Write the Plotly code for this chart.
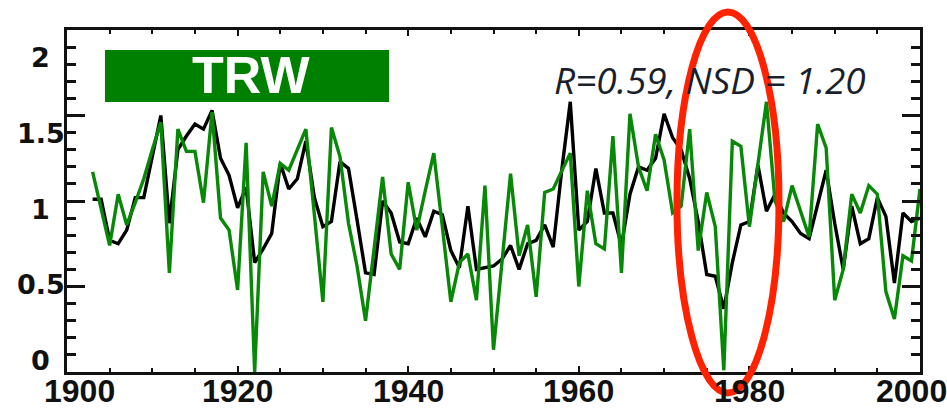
import plotly.graph_objects as go

# Annual series, 1903-2000
years = list(range(1903, 2001))

observed = [
    1.01, 1.01, 0.77, 0.75, 0.83, 1.02, 1.02, 1.26, 1.50, 0.87,
    1.30, 1.38, 1.45, 1.42, 1.53, 1.25, 1.15, 0.96, 1.08, 0.64,
    0.72, 0.81, 1.22, 1.07, 1.13, 1.35, 1.02, 0.85, 0.88, 1.23,
    1.19, 0.89, 0.58, 0.57, 1.00, 0.93, 0.76, 0.75, 0.90, 0.79,
    0.94, 0.92, 0.71, 0.61, 0.97, 0.60, 0.61, 0.62, 0.66, 0.74,
    0.60, 0.75, 0.77, 0.86, 0.73, 1.18, 1.58, 0.83, 0.88, 1.19,
    0.93, 0.93, 0.74, 1.04, 1.20, 1.18, 1.25, 1.51, 1.37, 1.30,
    1.13, 0.88, 0.57, 0.56, 0.37, 0.64, 0.86, 0.88, 1.21, 0.94,
    1.04, 0.93, 0.88, 0.81, 0.78, 0.99, 1.18, 0.87, 0.60, 0.97,
    0.75, 0.78, 1.02, 0.91, 0.52, 0.93, 0.88, 0.90,
]

trw = [
    1.17, 0.95, 0.74, 1.04, 0.86, 0.99, 1.13, 1.30, 1.46, 0.58,
    1.42, 1.29, 1.29, 0.99, 1.52, 0.90, 0.83, 0.48, 1.34, 0.00,
    1.17, 0.97, 1.22, 1.18, 1.30, 1.42, 0.92, 0.41, 1.43, 1.26,
    0.87, 0.62, 0.30, 0.73, 1.14, 0.69, 0.60, 1.11, 0.83, 1.06,
    1.28, 0.85, 0.41, 0.64, 0.69, 0.42, 1.09, 0.13, 0.65, 1.16,
    0.68, 0.86, 0.44, 1.05, 1.07, 1.17, 1.28, 0.50, 1.06, 0.75,
    0.72, 1.38, 0.58, 1.51, 1.20, 1.06, 1.39, 1.24, 0.93, 0.97,
    1.42, 0.71, 1.05, 0.85, 0.01, 1.35, 1.32, 0.85, 1.22, 1.58,
    1.00, 0.88, 1.09, 0.94, 0.79, 1.45, 1.31, 0.42, 0.60, 1.04,
    0.93, 1.09, 1.04, 0.47, 0.31, 0.68, 0.65, 1.07,
]

x_tick_values = [1900, 1920, 1940, 1960, 1980, 2000]
x_tick_labels = ["1900", "1920", "1940", "1960", "1980", "2000"]
y_tick_values = [0, 0.5, 1, 1.5, 2]
y_tick_labels = ["0", "0.5", "1", "1.5", "2"]

panel_label = "TRW"
stats_text = "R=0.59, NSD = 1.20"

fig = go.Figure()

fig.add_trace(go.Scatter(
    x=years, y=observed, mode="lines",
    line=dict(color="#000000", width=3.4),
    showlegend=False, hoverinfo="skip",
))
fig.add_trace(go.Scatter(
    x=years, y=trw, mode="lines",
    line=dict(color="#078807", width=3.4),
    showlegend=False, hoverinfo="skip",
))
# empty trace so the label axis exists
fig.add_trace(go.Scatter(x=[], y=[], yaxis="y2", showlegend=False, hoverinfo="skip"))

frame = dict(showline=True, linecolor="#111111", linewidth=2.5, mirror="ticks",
             showgrid=False, zeroline=False, automargin=False)

fig.update_layout(
    width=947, height=412,
    margin=dict(l=67, r=27, t=30, b=40),
    paper_bgcolor="white", plot_bgcolor="white",
    xaxis=dict(
        range=[1900, 2000], tickmode="array",
        tickvals=x_tick_values, showticklabels=False,
        ticks="inside", ticklen=6, tickwidth=2, tickcolor="#111111",
        minor=dict(dtick=5, ticks="inside", ticklen=4, tickwidth=2, tickcolor="#111111"),
        **frame,
    ),
    yaxis=dict(
        range=[0, 2], tickmode="array", tickvals=y_tick_values,
        showticklabels=False,
        ticks="inside", ticklen=18, tickwidth=2.5, tickcolor="#111111",
        minor=dict(dtick=0.1, ticks="inside", ticklen=9, tickwidth=2.5, tickcolor="#111111"),
        **frame,
    ),
    yaxis2=dict(
        overlaying="y", range=[-0.079, 2.185], visible=False,
    ),
)

# y tick labels, centred in the left margin
for v, t in zip(y_tick_values, y_tick_labels):
    fig.add_annotation(
        x=-0.0305, xref="paper", y=v, yref="y2",
        text=t, showarrow=False, xanchor="center", yanchor="middle",
        font=dict(family="DejaVu Sans", size=27, color="#111111", weight="bold"),
    )

# x tick labels under the axis; the end labels are pulled inward
x_label_shift = {1900: 12, 2000: -9}
for v, t in zip(x_tick_values, x_tick_labels):
    fig.add_annotation(
        x=v, xref="x", y=-0.056, yref="paper",
        text=t, showarrow=False, xanchor="center", yanchor="middle",
        xshift=x_label_shift.get(v, 0),
        font=dict(family="Liberation Sans Narrow, Arial Narrow, Liberation Sans",
                  size=32, color="#111111", weight="bold"),
    )

# panel tag
fig.add_shape(type="rect", xref="x", yref="y",
              x0=1904.45, x1=1937.75, y0=1.579, y1=1.883,
              fillcolor="#008000", line=dict(width=0), layer="above")
fig.add_annotation(
    x=1921.6, xref="x", y=1.737, yref="y", text=panel_label, showarrow=False,
    xanchor="center", yanchor="middle",
    font=dict(family="Liberation Sans, Arial", size=52, color="white", weight="bold"),
)

# statistics
fig.add_annotation(
    x=1975.4, xref="x", y=1.708, yref="y", text=stats_text, showarrow=False,
    xanchor="center", yanchor="middle",
    font=dict(family="Open Sans", size=37, color="#1a1f2b", style="italic"),
)

# highlight ellipse around the late-1970s minimum
fig.add_shape(type="circle", xref="paper", yref="paper",
              x0=0.7151, x1=0.8347, y0=-0.0614, y1=1.0526,
              line=dict(color="#ff2200", width=7), layer="above")

fig.write_html("out.html")
